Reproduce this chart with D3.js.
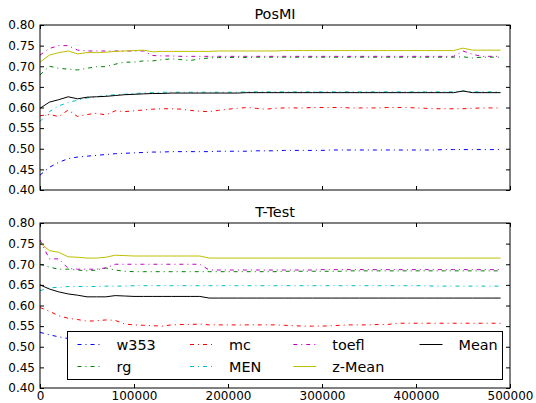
<!DOCTYPE html>
<html>
<head>
<meta charset="utf-8">
<script src="https://cdn.jsdelivr.net/npm/d3@7"></script>
<style>
  body { margin: 0; background: #fff; }
  svg { display: block; font-family: "DejaVu Sans", sans-serif; }
</style>
</head>
<body>
<div id="chart"></div>
<script>
// sample positions (training steps)
var steps = [0, 10000, 20000, 30000, 40000, 50000, 60000, 70000, 80000, 90000,
    100000, 110000, 120000, 130000, 140000, 150000, 160000, 170000, 180000, 190000,
    200000, 210000, 220000, 230000, 240000, 250000, 260000, 270000, 280000, 290000,
    300000, 310000, 320000, 330000, 340000, 350000, 360000, 370000, 380000, 390000,
    400000, 410000, 420000, 430000, 440000, 450000, 460000, 470000, 480000, 490000];

var seriesNames = ["w353", "rg", "mc", "MEN", "toefl", "z-Mean", "Mean"];
var seriesColors = ["#0000ff", "#008000", "#ff0000", "#00bfbf", "#bf00bf", "#bfbf00", "#000000"];
var seriesDashed = [true, true, true, true, true, false, false];

var yTicks = [0.40, 0.45, 0.50, 0.55, 0.60, 0.65, 0.70, 0.75, 0.80];
var xTicks = [0, 100000, 200000, 300000, 400000, 500000];

// PosMI panel
var w353Top = [0.436,0.455,0.467,0.476,0.480,0.482,0.484,0.486,0.488,0.489,
    0.490,0.491,0.492,0.492,0.493,0.493,0.493,0.493,0.493,0.494,
    0.494,0.494,0.494,0.495,0.495,0.495,0.496,0.496,0.496,0.496,
    0.496,0.497,0.497,0.497,0.497,0.497,0.497,0.497,0.497,0.497,
    0.497,0.497,0.497,0.498,0.498,0.498,0.498,0.498,0.498,0.498];
var rgTop = [0.679,0.700,0.695,0.693,0.691,0.695,0.699,0.699,0.705,0.710,
    0.710,0.713,0.713,0.716,0.718,0.716,0.714,0.718,0.720,0.721,
    0.721,0.722,0.721,0.722,0.722,0.722,0.722,0.722,0.722,0.722,
    0.722,0.722,0.722,0.722,0.722,0.722,0.722,0.722,0.722,0.722,
    0.722,0.722,0.722,0.722,0.722,0.723,0.720,0.722,0.722,0.722];
var mcTop = [0.580,0.583,0.578,0.594,0.578,0.583,0.586,0.582,0.592,0.590,
    0.592,0.594,0.596,0.597,0.597,0.596,0.593,0.591,0.590,0.593,
    0.596,0.598,0.600,0.598,0.596,0.598,0.599,0.599,0.599,0.600,
    0.600,0.600,0.600,0.599,0.599,0.599,0.599,0.600,0.600,0.600,
    0.599,0.598,0.597,0.597,0.597,0.597,0.598,0.599,0.599,0.599];
var menTop = [0.566,0.590,0.604,0.612,0.618,0.623,0.626,0.629,0.631,0.632,
    0.634,0.635,0.636,0.637,0.637,0.637,0.637,0.637,0.637,0.637,
    0.637,0.637,0.638,0.638,0.638,0.638,0.638,0.638,0.638,0.638,
    0.638,0.638,0.638,0.638,0.638,0.638,0.638,0.638,0.638,0.638,
    0.638,0.638,0.638,0.638,0.638,0.640,0.638,0.638,0.638,0.638];
var toeflTop = [0.727,0.743,0.750,0.750,0.739,0.737,0.737,0.737,0.737,0.737,
    0.737,0.737,0.726,0.725,0.725,0.724,0.724,0.724,0.724,0.724,
    0.724,0.724,0.724,0.724,0.724,0.724,0.724,0.724,0.724,0.724,
    0.724,0.724,0.724,0.724,0.724,0.724,0.724,0.724,0.724,0.724,
    0.724,0.724,0.724,0.724,0.724,0.737,0.729,0.724,0.724,0.724];
var zmeanTop = [0.710,0.727,0.733,0.737,0.730,0.733,0.733,0.734,0.736,0.737,
    0.738,0.739,0.735,0.736,0.736,0.736,0.736,0.736,0.736,0.737,
    0.737,0.737,0.737,0.737,0.737,0.737,0.738,0.738,0.738,0.738,
    0.738,0.738,0.738,0.738,0.738,0.738,0.738,0.738,0.738,0.738,
    0.738,0.738,0.738,0.738,0.738,0.744,0.739,0.739,0.739,0.739];
var meanTop = [0.598,0.613,0.619,0.626,0.621,0.625,0.626,0.627,0.629,0.631,
    0.632,0.633,0.634,0.634,0.635,0.635,0.635,0.635,0.635,0.635,
    0.635,0.635,0.636,0.636,0.636,0.636,0.636,0.636,0.636,0.636,
    0.636,0.636,0.636,0.636,0.636,0.636,0.636,0.636,0.636,0.636,
    0.636,0.636,0.636,0.636,0.636,0.640,0.636,0.636,0.636,0.636];

// T-Test panel
var w353Bot = [0.535,0.529,0.524,0.520,0.518,0.517,0.516,0.516,0.515,0.515,
    0.515,0.515,0.515,0.515,0.515,0.515,0.515,0.515,0.515,0.515,
    0.515,0.515,0.515,0.515,0.515,0.515,0.515,0.515,0.515,0.515,
    0.515,0.515,0.515,0.515,0.515,0.515,0.515,0.515,0.515,0.515,
    0.515,0.515,0.515,0.515,0.515,0.515,0.515,0.515,0.515,0.515];
var rgBot = [0.700,0.693,0.688,0.688,0.686,0.684,0.686,0.691,0.686,0.683,
    0.682,0.682,0.682,0.682,0.682,0.682,0.682,0.682,0.682,0.682,
    0.682,0.682,0.682,0.682,0.682,0.682,0.683,0.683,0.683,0.683,
    0.683,0.683,0.683,0.684,0.684,0.684,0.684,0.684,0.684,0.684,
    0.684,0.684,0.684,0.684,0.684,0.684,0.684,0.684,0.684,0.684];
var mcBot = [0.595,0.586,0.575,0.569,0.566,0.562,0.563,0.565,0.564,0.555,
    0.553,0.552,0.551,0.550,0.553,0.554,0.554,0.555,0.553,0.553,
    0.553,0.553,0.553,0.553,0.553,0.553,0.552,0.551,0.550,0.550,
    0.550,0.551,0.552,0.553,0.553,0.553,0.554,0.554,0.557,0.557,
    0.557,0.557,0.557,0.557,0.557,0.557,0.557,0.557,0.557,0.557];
var menBot = [0.636,0.643,0.644,0.646,0.646,0.646,0.646,0.647,0.647,0.647,
    0.648,0.648,0.648,0.648,0.648,0.648,0.648,0.648,0.648,0.648,
    0.648,0.648,0.648,0.648,0.648,0.648,0.648,0.648,0.648,0.648,
    0.648,0.648,0.648,0.648,0.648,0.648,0.648,0.648,0.648,0.648,
    0.648,0.648,0.647,0.647,0.647,0.647,0.647,0.647,0.647,0.647];
var toeflBot = [0.759,0.713,0.713,0.690,0.688,0.688,0.688,0.691,0.700,0.700,
    0.700,0.700,0.700,0.700,0.700,0.700,0.700,0.700,0.686,0.686,
    0.686,0.686,0.686,0.686,0.686,0.686,0.686,0.686,0.686,0.686,
    0.687,0.687,0.687,0.687,0.687,0.687,0.687,0.687,0.687,0.687,
    0.687,0.687,0.687,0.687,0.687,0.687,0.687,0.687,0.687,0.687];
var zmeanBot = [0.752,0.733,0.729,0.718,0.717,0.715,0.715,0.717,0.722,0.721,
    0.720,0.720,0.720,0.720,0.720,0.720,0.720,0.720,0.715,0.715,
    0.715,0.715,0.715,0.715,0.715,0.715,0.715,0.715,0.715,0.715,
    0.715,0.715,0.715,0.715,0.715,0.715,0.715,0.715,0.715,0.715,
    0.715,0.715,0.715,0.715,0.715,0.715,0.715,0.715,0.715,0.715];
var meanBot = [0.650,0.640,0.633,0.628,0.625,0.621,0.621,0.621,0.624,0.623,
    0.622,0.622,0.622,0.622,0.622,0.622,0.622,0.622,0.618,0.618,
    0.618,0.618,0.618,0.618,0.618,0.618,0.618,0.618,0.618,0.618,
    0.618,0.618,0.618,0.618,0.618,0.618,0.618,0.618,0.618,0.618,
    0.618,0.618,0.618,0.618,0.618,0.618,0.618,0.618,0.618,0.618];

var panels = [
    { title: "PosMI", top: 25, series: [w353Top, rgTop, mcTop, menTop, toeflTop, zmeanTop, meanTop], xLabels: false },
    { title: "T-Test", top: 223, series: [w353Bot, rgBot, mcBot, menBot, toeflBot, zmeanBot, meanBot], xLabels: true }
];

var width = 536, height = 403;
var left = 40, right = 510, panelH = 165;
var tickLen = 4;

var svg = d3.select("#chart").append("svg")
    .attr("width", width)
    .attr("height", height);

var x = d3.scaleLinear().domain([0, 500000]).range([left, right]);

panels.forEach(function(p, pi) {
    var y = d3.scaleLinear().domain([0.40, 0.80]).range([p.top + panelH, p.top]);
    var g = svg.append("g");

    // lines
    var line = d3.line()
        .x(function(d, i) { return x(steps[i]); })
        .y(function(d) { return y(d); });

    p.series.forEach(function(vals, si) {
        g.append("path")
            .datum(vals)
            .attr("d", line)
            .attr("fill", "none")
            .attr("stroke", seriesColors[si])
            .attr("stroke-width", 1)
            .attr("stroke-dasharray", seriesDashed[si] ? "4,4,1,4" : null);
    });

    // axes: ticks pointing inward on all sides
    g.append("g")
        .attr("transform", "translate(" + left + ",0)")
        .call(d3.axisLeft(y).tickValues(yTicks).tickSize(-tickLen).tickPadding(5)
            .tickFormat(d3.format(".2f")));
    g.append("g")
        .attr("transform", "translate(" + right + ",0)")
        .call(d3.axisRight(y).tickValues(yTicks).tickSize(-tickLen).tickFormat(""));
    g.append("g")
        .attr("transform", "translate(0," + (p.top + panelH) + ")")
        .call(d3.axisBottom(x).tickValues(xTicks).tickSize(-tickLen).tickPadding(3)
            .tickFormat(p.xLabels ? d3.format("d") : ""));
    g.append("g")
        .attr("transform", "translate(0," + p.top + ")")
        .call(d3.axisTop(x).tickValues(xTicks).tickSize(-tickLen).tickFormat(""));

    g.selectAll(".domain").remove();
    g.selectAll(".tick line").attr("stroke", "#000");
    g.selectAll(".tick text")
        .attr("font-family", "DejaVu Sans, sans-serif")
        .attr("font-size", 12)
        .attr("fill", "#000");

    // frame
    g.append("rect")
        .attr("x", left)
        .attr("y", p.top)
        .attr("width", right - left)
        .attr("height", panelH)
        .attr("fill", "none")
        .attr("stroke", "#000")
        .attr("stroke-width", 1);

    g.append("text")
        .attr("x", (left + right) / 2)
        .attr("y", p.top - 6)
        .attr("text-anchor", "middle")
        .attr("font-size", 14.4)
        .text(p.title);
});

// legend in the lower panel, 4 columns filled column by column
var legX = 67.5, legY = 331.5, legW = 435, legH = 48;
var colX = [10, 122.5, 225.8, 352];
var rowY = [13, 35];

var leg = svg.append("g").attr("transform", "translate(" + legX + "," + legY + ")");
leg.append("rect")
    .attr("width", legW)
    .attr("height", legH)
    .attr("fill", "#fff")
    .attr("stroke", "#000")
    .attr("stroke-width", 1);

seriesNames.forEach(function(name, i) {
    var cx = colX[Math.floor(i / 2)], cy = rowY[i % 2];
    leg.append("line")
        .attr("x1", cx).attr("x2", cx + 23)
        .attr("y1", cy).attr("y2", cy)
        .attr("stroke", seriesColors[i])
        .attr("stroke-width", 1)
        .attr("stroke-dasharray", seriesDashed[i] ? "4,4,1,4" : null);
    leg.append("text")
        .attr("x", cx + 39)
        .attr("y", cy)
        .attr("dy", "0.36em")
        .attr("font-size", 14.4)
        .text(name);
});
</script>
</body>
</html>
